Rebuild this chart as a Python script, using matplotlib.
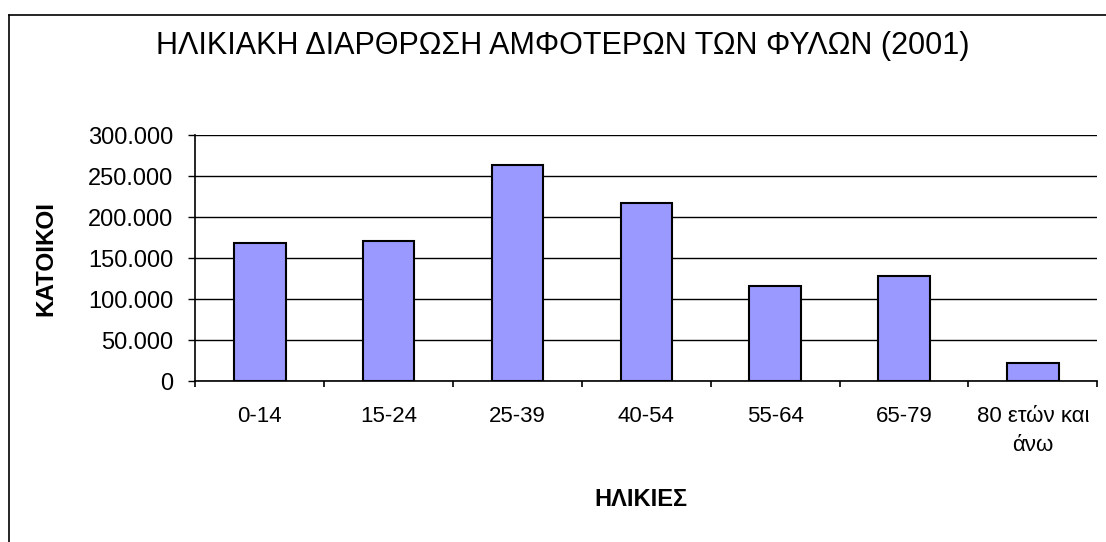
import numpy as np
import matplotlib
matplotlib.use("Agg")
import matplotlib.pyplot as plt
from matplotlib.ticker import FuncFormatter, MultipleLocator, FixedLocator
from matplotlib.lines import Line2D

# Ηλικιακή διάρθρωση (2001)
ilikies = ["0-14", "15-24", "25-39", "40-54", "55-64", "65-79", "80 ετών και\nάνω"]
katoikoi = [169000, 170500, 263000, 216800, 115700, 127900, 21900]

plt.rcParams['font.family'] = ['Liberation Sans', 'DejaVu Sans']

fig = plt.figure(figsize=(11.06, 5.42), dpi=100)
ax = fig.add_axes([195.3/1106, 1-381.3/542, 902/1106, 246.3/542])

x = np.arange(len(ilikies))
ax.bar(x, katoikoi, width=0.4, color='#9999FF', edgecolor='black', linewidth=1.5, zorder=3)

ax.set_xlim(-0.5, len(ilikies)-0.5)
ax.set_ylim(0, 300000)
ax.yaxis.set_major_locator(MultipleLocator(50000))
ax.yaxis.set_major_formatter(FuncFormatter(lambda v, p: f"{int(v):,}".replace(",", ".")))
ax.grid(axis='y', color='black', linewidth=1, zorder=0)

ax.set_xticks(x)
ax.set_xticklabels(ilikies, fontsize=16, linespacing=1.45)
ax.xaxis.set_minor_locator(FixedLocator(np.arange(-0.5, len(ilikies), 1)))
ax.tick_params(axis='x', which='major', length=0, pad=18)
ax.tick_params(axis='x', which='minor', length=4.5, width=1.2, direction='out')
ax.tick_params(axis='y', length=5, width=1, labelsize=17, pad=11)

for s in ['top', 'right']:
    ax.spines[s].set_visible(False)
for s in ['left', 'bottom']:
    ax.spines[s].set_linewidth(1.2)

ax.set_ylabel("ΚΑΤΟΙΚΟΙ", fontsize=17.5, fontweight='bold', va='center')
ax.yaxis.set_label_coords((46 - 195.3)/902, 0.5)
ax.set_xlabel("ΗΛΙΚΙΕΣ", fontsize=17, fontweight='bold', va='center')
ax.xaxis.set_label_coords((641 - 195.3)/902, (381.3 - 500)/246.3)

fig.text(563/1106, 1-46/542, "ΗΛΙΚΙΑΚΗ ΔΙΑΡΘΡΩΣΗ ΑΜΦΟΤΕΡΩΝ ΤΩΝ ΦΥΛΩΝ (2001)",
         fontsize=22, ha='center', va='center')

# outer chart border
fig.add_artist(Line2D([9/1106, 1], [1-15/542, 1-15/542], color='black', linewidth=1.2, transform=fig.transFigure))
fig.add_artist(Line2D([9/1106, 9/1106], [0, 1-15/542], color='black', linewidth=1.2, transform=fig.transFigure))

fig.savefig("out.png", dpi=100)
